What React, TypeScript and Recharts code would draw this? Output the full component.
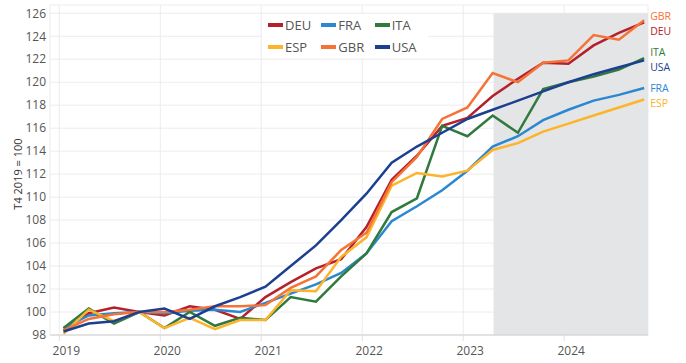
import {
  LineChart,
  Line,
  XAxis,
  YAxis,
  CartesianGrid,
  ReferenceArea,
  LabelList,
} from "recharts";

// quarters 2019 T1 .. 2024 T4, index T4 2019 = 100
const years = [2019, 2020, 2021, 2022, 2023, 2024];
const yTicks = [98, 100, 102, 104, 106, 108, 110, 112, 114, 116, 118, 120, 122, 124, 126];

const deu = [98.4, 99.9, 100.4, 100.0, 99.7, 100.5, 100.2, 99.4, 101.3, 102.6, 103.8, 104.6, 107.4, 111.5, 113.6, 116.2, 116.9, 118.8, 120.3, 121.7, 121.6, 123.2, 124.3, 125.2];
const fra = [98.6, 99.7, 99.9, 100.0, 99.9, 100.1, 100.2, 100.0, 100.8, 101.6, 102.4, 103.4, 105.1, 107.9, 109.2, 110.6, 112.3, 114.4, 115.3, 116.7, 117.6, 118.4, 118.9, 119.5];
const ita = [98.6, 100.3, 99.0, 100.0, 98.6, 100.0, 98.8, 99.5, 99.3, 101.3, 100.9, 103.1, 105.1, 108.7, 109.9, 116.2, 115.3, 117.1, 115.6, 119.4, 120.0, 120.5, 121.1, 122.1];
const esp = [98.1, 100.2, 99.2, 100.0, 98.6, 99.5, 98.5, 99.3, 99.3, 101.9, 101.8, 104.8, 106.5, 111.0, 112.1, 111.8, 112.3, 114.1, 114.7, 115.7, 116.4, 117.1, 117.8, 118.5];
const gbr = [98.4, 99.4, 99.8, 100.0, 100.0, 100.2, 100.5, 100.5, 100.6, 102.1, 103.1, 105.4, 106.9, 111.3, 113.5, 116.8, 117.8, 120.8, 120.0, 121.7, 121.9, 124.1, 123.7, 125.4];
const usa = [98.3, 99.0, 99.2, 100.0, 100.3, 99.4, 100.5, 101.3, 102.2, 104.0, 105.8, 108.0, 110.3, 113.0, 114.4, 115.6, 116.8, 117.6, 118.4, 119.2, 120.0, 120.7, 121.3, 121.9];

// projection zone starts after 2023 T1
const forecastStart = 2023.3;
const xDomain = [2018.908, 2024.83];

const series = [
  { key: "DEU", values: deu, color: "#b5202a", dy: 9 },
  { key: "FRA", values: fra, color: "#2b88d0", dy: 0 },
  { key: "ITA", values: ita, color: "#2f7a3c", dy: -6 },
  { key: "ESP", values: esp, color: "#fdb32a", dy: 4 },
  { key: "GBR", values: gbr, color: "#f57336", dy: -4 },
  { key: "USA", values: usa, color: "#1d3f8f", dy: 7 },
];

const legendRows = [
  ["DEU", "FRA", "ITA"],
  ["ESP", "GBR", "USA"],
];

const rows = deu.map((_, i) => {
  const year = years[Math.floor(i / 4)];
  const q = i % 4;
  const row: any = { t: year + (q * 3 + 0.5) / 12 };
  series.forEach((s) => (row[s.key] = s.values[i]));
  return row;
});

const font = "'Open Sans', 'DejaVu Sans', sans-serif";
const colorOf = (k: string) => series.find((s) => s.key === k)!.color;

// legend drawn as an overlay so it does not shrink the plot
const LegendBox = () => (
  <div
    style={{
      position: "absolute",
      left: 262,
      top: 14,
      width: 166,
      background: "#fff",
      padding: "0 0 0 6px",
      boxSizing: "border-box",
      fontFamily: font,
      fontSize: 13,
      color: "#555",
    }}
  >
    {legendRows.map((r, ri) => (
      <div key={ri} style={{ display: "flex", height: 22, alignItems: "center" }}>
        {r.map((k) => (
          <div key={k} style={{ width: 55, display: "flex", alignItems: "center" }}>
            <span
              style={{
                display: "inline-block",
                width: 15,
                height: 4,
                background: colorOf(k),
                marginRight: 2,
              }}
            />
            <span>{k}</span>
          </div>
        ))}
      </div>
    ))}
  </div>
);

const YearTick = ({ x, y, payload }: any) => (
  <text x={x + 7} y={y + 12} textAnchor="middle" fill="#555" fontSize={12} fontFamily={font}>
    {payload.value}
  </text>
);

const YTitle = ({ viewBox }: any) => {
  const cx = 17;
  const cy = viewBox.y + viewBox.height / 2 + 4;
  return (
    <text
      x={cx}
      y={cy}
      transform={`rotate(-90, ${cx}, ${cy})`}
      textAnchor="middle"
      dominantBaseline="central"
      fill="#333"
      fontSize={11}
      fontFamily={font}
    >
      T4 2019 = 100
    </text>
  );
};

const endLabel = (name: string, color: string, dy: number) => (props: any) => {
  const { x, y, index } = props;
  if (index !== deu.length - 1) return null;
  return (
    <text x={x + 6} y={y + dy} dy="0.35em" fill={color} fontSize={10.5} fontFamily={font}>
      {name}
    </text>
  );
};

export default function App() {
  return (
    <div style={{ position: "absolute", left: 0, top: 0, width: 686, height: 363 }}>
      <LineChart
        width={686}
        height={363}
        data={rows}
        margin={{ top: 5, right: 38, left: 0, bottom: 0 }}
      >
        <CartesianGrid stroke="#ececec" strokeWidth={1} />
        <XAxis
          dataKey="t"
          type="number"
          domain={xDomain}
          ticks={years}
          interval={0}
          allowDataOverflow
          tick={<YearTick />}
          tickLine={{ stroke: "#e0e0e0" }}
          axisLine={{ stroke: "#cfcfcf" }}
          tickSize={6}
          height={28}
        />
        <YAxis
          type="number"
          domain={[98, 126.72]}
          ticks={yTicks}
          interval={0}
          allowDataOverflow
          width={50}
          axisLine={false}
          tickLine={false}
          tickSize={4}
          tickMargin={0}
          tick={{ fill: "#555", fontSize: 12, fontFamily: font }}
          label={<YTitle />}
        />
        <ReferenceArea
          x1={forecastStart}
          x2={xDomain[1]}
          y1={98}
          y2={126}
          fill="#e4e5e7"
          fillOpacity={1}
          stroke="none"
          ifOverflow="visible"
        />
        {series.map((s) => (
          <Line
            key={s.key}
            dataKey={s.key}
            stroke={s.color}
            strokeWidth={2.5}
            dot={false}
            isAnimationActive={false}
          >
            <LabelList dataKey={s.key} content={endLabel(s.key, s.color, s.dy)} />
          </Line>
        ))}
      </LineChart>
      <LegendBox />
    </div>
  );
}
